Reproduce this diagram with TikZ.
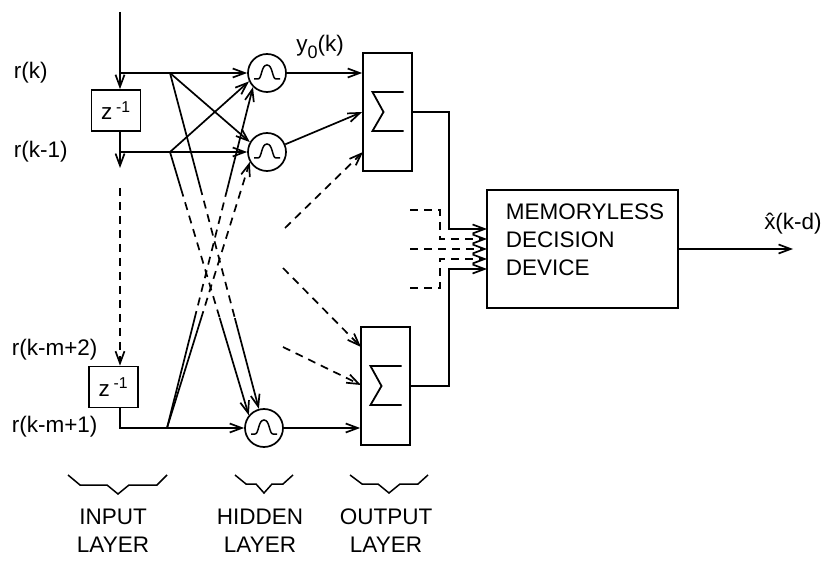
\documentclass[tikz,border=0pt]{standalone}
\usepackage{fontspec}
\setmainfont{Liberation Sans}
\usetikzlibrary{arrows.meta,calc}
\begin{document}
\begin{tikzpicture}[x=1pt,y=-1pt,
  line width=1.7pt,
  >={Straight Barb[length=12pt,width=9pt]},
  every node/.style={font=\fontsize{22.5}{28}\selectfont, inner sep=0pt},
  dly/.style={draw, minimum width=49pt, minimum height=41pt},
  neuron/.style={draw, circle, minimum size=38pt},
  sumbox/.style={draw, minimum width=49pt, minimum height=118pt},
  dsh/.style={dash pattern=on 8pt off 6pt},
  lbl/.style={anchor=west},
  bell/.pic={\draw[line width=1.5pt] (-13,6) -- (-9,6) .. controls (-5,6) and (-6,-8) .. (0,-8) .. controls (6,-8) and (5,6) .. (9,6) -- (13,6);},
  sigma/.pic={\draw[line width=1.8pt, line join=miter] (16,-20) -- (-15,-20) -- (-4,0) -- (-15,19) -- (16,19);},
  brace/.style={line width=1.5pt}]
\useasboundingbox (0,0) rectangle (825,561);

% nodes
\node[dly] (d1) at (116,110.5) {z\,\textsuperscript{-1}};
\node[dly] (d2) at (113.5,387) {z\,\textsuperscript{-1}};
\node[neuron] (h1) at (267,73) {};
\node[neuron] (h2) at (267,152) {};
\node[neuron] (h3) at (264,428) {};
\pic at (h1) {bell};
\pic at (h2) {bell};
\pic at (h3) {bell};
\node[sumbox] (s1) at (387.5,112) {};
\node[sumbox] (s2) at (385.5,386) {};
\pic at (s1) {sigma};
\pic at (s2) {sigma};
\node[draw, minimum width=191pt, minimum height=118pt] (dec) at (582.5,249) {};
\node[anchor=west, align=left] (dectext) at (505,240) {MEMORYLESS\\DECISION\\DEVICE};

% labels
\node[lbl] (lk) at (13,73) {r(k)};
\node[lbl] (lk1) at (13,152) {r(k-1)};
\node[lbl] (lkm2) at (11,350) {r(k-m+2)};
\node[lbl] (lkm1) at (11,427) {r(k-m+1)};
\node (y0) at (320,47) {y\raisebox{-7pt}{\fontsize{18}{18}\selectfont 0}(k)};
\node (xh) at (793,224) {\^{x}(k-d)};
\node[align=center] (il) at (113,531) {INPUT\\LAYER};
\node[align=center] (hl) at (260,531) {HIDDEN\\LAYER};
\node[align=center] (ol) at (386,531) {OUTPUT\\LAYER};

% coordinates
\coordinate (top) at (120,12);
\coordinate (j1) at (120,73);
\coordinate (j2) at (120,152);
\coordinate (a1) at (120,168);
\coordinate (a2) at (120,188);
\coordinate (j3) at (120,428);
\coordinate (c1) at (170,73);
\coordinate (c2) at (170,152);
\coordinate (c3) at (167,428);
\coordinate (e1) at (285,228);
\coordinate (s1c) at (363,152);
\coordinate (e2) at (283,268);
\coordinate (s2a) at (361,347);
\coordinate (e3) at (283,347);
\coordinate (s2b) at (361,385);
\coordinate (in1) at (487,229);
\coordinate (in2) at (487,239);
\coordinate (in3) at (487,249);
\coordinate (in4) at (487,259);
\coordinate (in5) at (487,269);
\coordinate (k1) at (449,229);
\coordinate (k2) at (440,239);
\coordinate (k4) at (440,259);
\coordinate (k5) at (449,269);
\coordinate (f1) at (410,210);
\coordinate (f3) at (410,249);
\coordinate (f5) at (410,288);
\coordinate (outend) at (793,249);

% input delay line
\draw[->] (top) -- (top |- d1.north);
\draw[->] (top |- d1.south) -- (a1);
\draw[->,dsh] (a2) -- (top |- d2.north);
\draw[->] (top |- d2.south) -- (j3) -- (h3.west);
\draw[->] (j1) -- (h1.west);
\draw[->] (j2) -- (h2.west);

% crossing connections
\draw[->] (c1) -- (h2.150);
\draw[->] (c2) -- (h1.205);
% A: r(k) -> h3
\draw (c1) -- ($(c1)!0.34!(h3.105)$);
\draw[dsh] ($(c1)!0.34!(h3.105)$) -- ($(c1)!0.73!(h3.105)$);
\draw[->] ($(c1)!0.73!(h3.105)$) -- (h3.105);
% B: r(k-1) -> h3
\draw (c2) -- ($(c2)!0.14!(h3.140)$);
\draw[dsh] ($(c2)!0.14!(h3.140)$) -- ($(c2)!0.63!(h3.140)$);
\draw[->] ($(c2)!0.63!(h3.140)$) -- (h3.140);
% C: r(k-m+1) -> h1
\draw (c3) -- ($(c3)!0.32!(h1.225)$);
\draw[dsh] ($(c3)!0.32!(h1.225)$) -- ($(c3)!0.70!(h1.225)$);
\draw[->] ($(c3)!0.70!(h1.225)$) -- (h1.225);
% D: r(k-m+1) -> h2
\draw (c3) -- ($(c3)!0.41!(h2.210)$);
\draw[->,dsh] ($(c3)!0.41!(h2.210)$) -- (h2.210);

% hidden -> output
\draw[->] (h1) -- (h1 -| s1.west);
\draw[->] (h2) -- (s1.west);
\draw[->,dsh] (e1) -- (s1c);
\draw[->,dsh] (e2) -- (s2a);
\draw[->,dsh] (e3) -- (s2b);
\draw[->] (h3) -- (h3 -| s2.west);

% output -> decision
\draw[->] (s1.east) -| (k1) -- (in1);
\draw[->] (s2.east) -| (k5) -- (in5);
\draw[->,dsh] (f1) -| (k2) -- (in2);
\draw[->,dsh] (f3) -- (in3);
\draw[->,dsh] (f5) -| (k4) -- (in4);
\draw[->] (dec.east) -- (outend);

% braces
\draw[brace] (68,475) -- (80,485) -- (107,485) -- (118,494) -- (129,485) -- (157,485) -- (167,475);
\draw[brace] (235,475) -- (246,484) -- (256,484) -- (264,493) -- (272,484) -- (283,484) -- (293,475);
\draw[brace] (350,475) -- (362,484) -- (378,484) -- (389,493) -- (400,484) -- (418,484) -- (428,475);
\end{tikzpicture}
\end{document}
